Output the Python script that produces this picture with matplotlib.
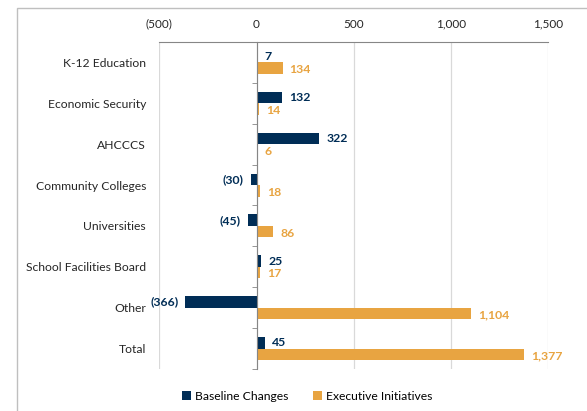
import numpy as np
import matplotlib
matplotlib.use("Agg")
import matplotlib.pyplot as plt
from matplotlib.patches import Rectangle

plt.rcParams['font.family'] = ['Lato', 'DejaVu Sans']

categories = ['K-12 Education', 'Economic Security', 'AHCCCS', 'Community Colleges',
              'Universities', 'School Facilities Board', 'Other', 'Total']
baseline = [7, 132, 322, -30, -45, 25, -366, 45]
executive = [134, 14, 6, 18, 86, 17, 1104, 1377]
xticks = [-500, 0, 500, 1000, 1500]

NAVY = '#002D56'
ORANGE = '#E8A441'
GRID = '#D9D9D9'
AXIS = '#868686'


def fmt(v):
    s = f'{abs(v):,.0f}'
    return f'({s})' if v < 0 else s


fig = plt.figure(figsize=(5.87, 4.11), dpi=100)
# light frame around the chart area
fig.patches.append(Rectangle((17 / 587, -0.05), 1.0, 1 - 8 / 411 + 0.05,
                             transform=fig.transFigure, fill=False,
                             edgecolor='#BFBFBF', linewidth=1.0))

ax = fig.add_axes([159.3 / 587, 1 - 369 / 411, (548.3 - 159.3) / 587, (369 - 42) / 411])

y = np.arange(len(categories))
h = 0.28
ax.barh(y - h / 2, baseline, height=h, color=NAVY, label='Baseline Changes', zorder=3)
ax.barh(y + h / 2, executive, height=h, color=ORANGE, label='Executive Initiatives', zorder=3)

for yi, v in zip(y, baseline):
    ax.annotate(fmt(v), (v, yi - h / 2), xytext=(5 if v >= 0 else -5, 0),
                textcoords='offset points', va='center',
                ha='left' if v >= 0 else 'right',
                color=NAVY, fontsize=8.8, fontweight='bold')
for yi, v in zip(y, executive):
    ax.annotate(fmt(v), (v, yi + h / 2), xytext=(5, -1),
                textcoords='offset points', va='center', ha='left',
                color=ORANGE, fontsize=8.8, fontweight='bold')

ax.set_xlim(-500, 1500)
ax.set_ylim(len(categories) - 0.5, -0.5)

# value axis along the top
ax.xaxis.tick_top()
ax.set_xticks(xticks)
ax.set_xticklabels([fmt(t) for t in xticks])
ax.tick_params(axis='x', length=0, pad=9, labelsize=8.5, colors='#262626')
ax.grid(axis='x', color=GRID, linewidth=0.9, zorder=0)

for side in ['right', 'bottom']:
    ax.spines[side].set_visible(False)
ax.spines['top'].set_color(AXIS)
ax.spines['left'].set_position(('data', 0))
ax.spines['left'].set_color(AXIS)
ax.spines['left'].set_zorder(4)

# category boundaries as minor ticks on the zero line
ax.set_yticks(y)
ax.set_yticklabels([])
ax.set_yticks(np.arange(len(categories) + 1) - 0.5, minor=True)
ax.tick_params(axis='y', which='major', length=0)
ax.tick_params(axis='y', which='minor', length=3.5, color=AXIS, direction='out')

# category names at the left edge of the plot
sec = ax.secondary_yaxis('left')
sec.set_yticks(y)
sec.set_yticklabels(categories)
sec.tick_params(length=0, pad=9.5, labelsize=8.7, colors='#262626')
sec.spines['left'].set_visible(False)

fig.legend(loc='center', bbox_to_anchor=(307 / 587, 1 - 396 / 411), ncol=2,
           frameon=False, fontsize=8.7, handlelength=0.75, handleheight=0.75,
           handletextpad=0.35, columnspacing=2.0)

fig.savefig('out.png', dpi=100)
